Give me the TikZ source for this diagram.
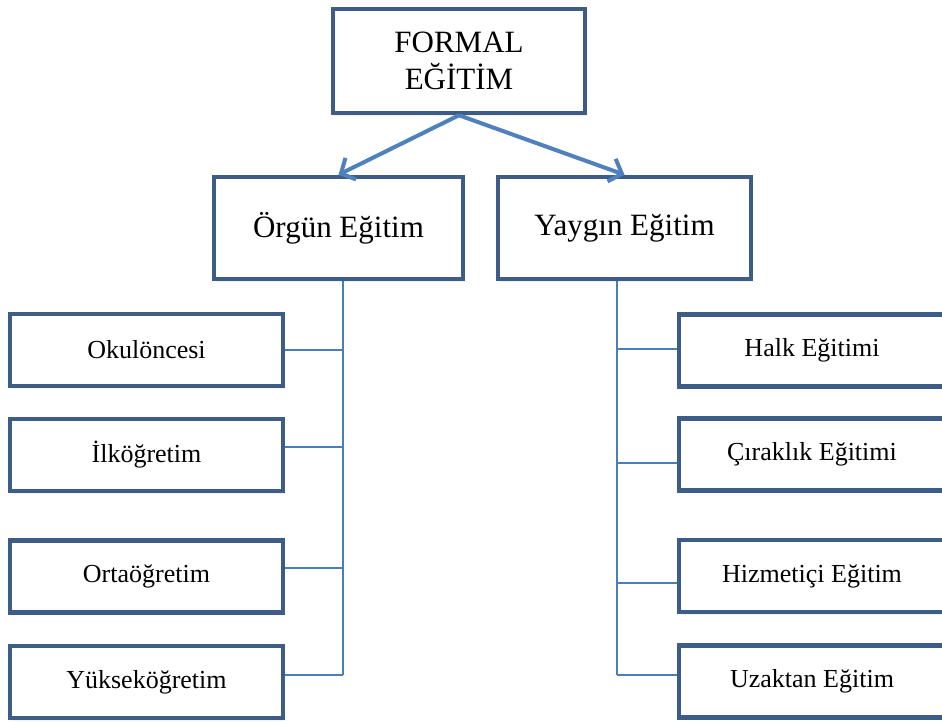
\documentclass[tikz,border=0pt]{standalone}
\usepackage{fontspec}
\setmainfont{Liberation Serif}
\usetikzlibrary{arrows.meta,shadows}
\definecolor{boxborder}{HTML}{3D5C86}
\definecolor{arrowblue}{HTML}{4F81BD}
\definecolor{linkblue}{HTML}{4A7EBB}
\begin{document}
\begin{tikzpicture}[x=1pt,y=-1pt,
  bigbox/.style={draw=boxborder, line width=4.5pt, fill=white, inner sep=0pt,
    align=center, font=\fontsize{31}{37}\selectfont,
    drop shadow={shadow xshift=1.5pt, shadow yshift=-3pt, opacity=0.12}},
  smallbox/.style={draw=boxborder, line width=4.5pt, fill=white, inner sep=0pt,
    minimum width=273pt, minimum height=72pt, font=\fontsize{26}{30}\selectfont,
    drop shadow={shadow xshift=1.5pt, shadow yshift=-2.5pt, opacity=0.10}},
  rbox/.style={smallbox, minimum width=266pt},
  conn/.style={draw=linkblue, line width=1.8pt},
  arr/.style={draw=arrowblue, line width=4pt, -{Straight Barb[length=11pt,width=24pt]}}]
\useasboundingbox (0,0) rectangle (942,722);
\clip (0,0) rectangle (942,722);
\fill[white] (0,0) rectangle (942,722);

\node[bigbox, minimum width=252pt, minimum height=104pt] (top) at (459,61) {FORMAL\\EĞİTİM};
\node[bigbox, minimum width=249pt, minimum height=102pt] (org) at (338.5,228) {Örgün Eğitim};
\node[bigbox, minimum width=253pt, minimum height=102pt] (yay) at (624.5,228) {Yaygın Eğitim};

\node[smallbox] (okul) at (146.5,350) {Okulöncesi};
\node[smallbox] (ilk)  at (146.5,455) {İlköğretim};
\node[smallbox] (orta) at (146.5,576.5) {Ortaöğretim};
\node[smallbox] (yuk)  at (146.5,682) {Yükseköğretim};

\node[rbox] (halk) at (812,350.5) {Halk Eğitimi};
\node[rbox] (cir)  at (812,454.5) {Çıraklık Eğitimi};
\node[rbox] (hiz)  at (812,576) {Hizmetiçi Eğitim};
\node[rbox] (uza)  at (812,681.5) {Uzaktan Eğitim};

\draw[arr] (top.south) -- (org.north);
\draw[arr] (top.south) -- (yay.north);

\coordinate (lt) at (343,281);
\coordinate (lb) at (343,675);
\draw[conn] (lt) -- (lb);
\draw[conn] (343,350) -- (okul.east |- 0,350);
\draw[conn] (343,447) -- (ilk.east |- 0,447);
\draw[conn] (343,568) -- (orta.east |- 0,568);
\draw[conn] (lb) -- (yuk.east |- lb);

\coordinate (rt) at (617,281);
\coordinate (rb) at (617,675);
\draw[conn] (rt) -- (rb);
\draw[conn] (617,349) -- (halk.west |- 0,349);
\draw[conn] (617,463) -- (cir.west |- 0,463);
\draw[conn] (617,583) -- (hiz.west |- 0,583);
\draw[conn] (rb) -- (uza.west |- rb);
\end{tikzpicture}
\end{document}
